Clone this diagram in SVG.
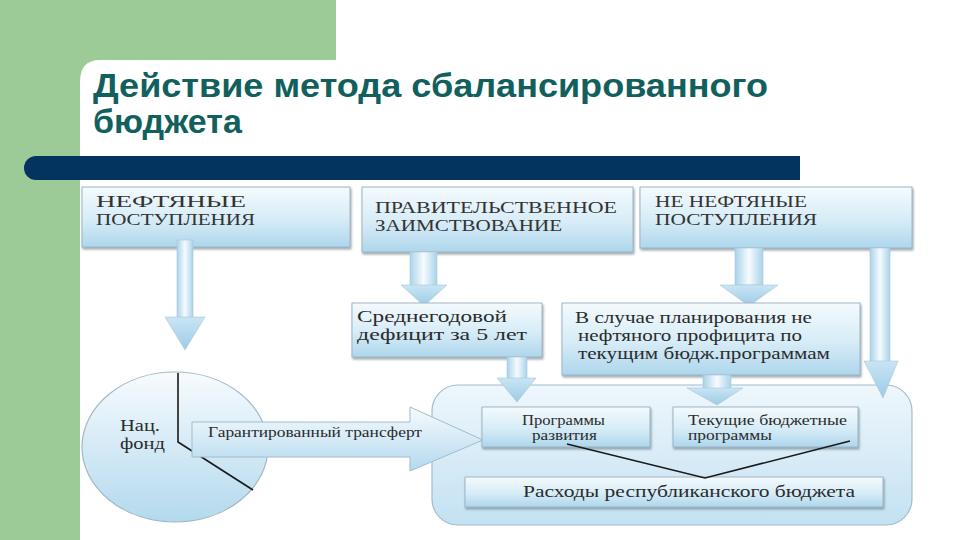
<svg xmlns="http://www.w3.org/2000/svg" width="960" height="540" viewBox="0 0 960 540">
<defs>
<linearGradient id="gBox" x1="0" y1="0" x2="0" y2="1">
<stop offset="0" stop-color="#f4fafd"/>
<stop offset="0.55" stop-color="#d6ecf7"/>
<stop offset="1" stop-color="#aed6ec"/>
</linearGradient>
<linearGradient id="gShaft" x1="0" y1="0" x2="1" y2="0">
<stop offset="0" stop-color="#a9d3ea"/>
<stop offset="0.5" stop-color="#f6fbfe"/>
<stop offset="1" stop-color="#a9d3ea"/>
</linearGradient>
<linearGradient id="gHead" x1="0" y1="0" x2="0" y2="1">
<stop offset="0" stop-color="#c9e5f4"/>
<stop offset="1" stop-color="#9ccbe6"/>
</linearGradient>
<linearGradient id="gBig" x1="0" y1="0" x2="0" y2="1">
<stop offset="0" stop-color="#f7fbfe"/>
<stop offset="1" stop-color="#b3d9ee"/>
</linearGradient>
<linearGradient id="gCont" x1="0" y1="0" x2="0" y2="1">
<stop offset="0" stop-color="#eef7fc"/>
<stop offset="1" stop-color="#c3e1f2"/>
</linearGradient>
<filter id="sh" x="-5%" y="-10%" width="110%" height="130%">
<feDropShadow dx="1" dy="2" stdDeviation="1.2" flood-color="#5a6f7c" flood-opacity="0.6"/>
</filter>
</defs>
<style>
.box{fill:url(#gBox);stroke:#9db6c5;stroke-width:1;filter:url(#sh)}
.cap{font-family:"Liberation Serif","Times New Roman",serif;font-size:16px;fill:#333333}
.txt{font-family:"Liberation Serif","Times New Roman",serif;font-size:16px;fill:#2b2b2b}
.sm{font-family:"Liberation Serif","Times New Roman",serif;font-size:14.5px;fill:#2b2b2b}
.shaft{fill:url(#gShaft);stroke:#a9c6d6;stroke-width:0.6}
.head{fill:url(#gHead);stroke:#a9c6d6;stroke-width:0.6}
.line{stroke:#1a1a1a;stroke-width:1.6;fill:none}
</style>
<rect x="0" y="0" width="960" height="540" fill="#ffffff"/>
<g id="background">
<rect x="0" y="0" width="80" height="540" fill="#9dcb97"/>
<rect x="0" y="0" width="336" height="60" fill="#9dcb97"/>
<path d="M80 60 L100 60 Q80 60 80 82 Z" fill="#9dcb97"/>
<rect x="24" y="156" width="776" height="24" rx="12" fill="#03335f"/>
<rect x="40" y="156" width="760" height="24" fill="#03335f"/>
</g>
<g id="title" font-family="'Liberation Sans',Arial,sans-serif" font-weight="bold" font-size="34" fill="#11605e">
<text x="93" y="97" textLength="675" lengthAdjust="spacingAndGlyphs">Действие метода сбалансированного</text>
<text x="93" y="133">бюджета</text>
</g>
<g id="container">
<rect x="432" y="385" width="480" height="140" rx="26" fill="url(#gCont)" stroke="#a3bccb" stroke-width="1.2"/>
</g>
<g id="node-oil">
<rect class="box" x="82" y="187" width="268" height="60"/>
<text class="cap" x="96" y="207" textLength="150" lengthAdjust="spacingAndGlyphs">НЕФТЯНЫЕ</text>
<text class="cap" x="96" y="225" textLength="159" lengthAdjust="spacingAndGlyphs">ПОСТУПЛЕНИЯ</text>
</g>
<g id="node-gov">
<rect class="box" x="362" y="187" width="271" height="65"/>
<text class="cap" x="375" y="213" textLength="242" lengthAdjust="spacingAndGlyphs">ПРАВИТЕЛЬСТВЕННОЕ</text>
<text class="cap" x="375" y="231" textLength="187" lengthAdjust="spacingAndGlyphs">ЗАИМСТВОВАНИЕ</text>
</g>
<g id="node-nonoil">
<rect class="box" x="640" y="187" width="272" height="61"/>
<text class="cap" x="655" y="207" textLength="152" lengthAdjust="spacingAndGlyphs">НЕ НЕФТЯНЫЕ</text>
<text class="cap" x="655" y="225" textLength="162" lengthAdjust="spacingAndGlyphs">ПОСТУПЛЕНИЯ</text>
</g>
<g id="connectors">
<rect class="shaft" x="177" y="240" width="16" height="78"/>
<path class="head" d="M165 317 L205 317 L185 350 Z"/>
<rect class="shaft" x="410" y="252" width="27" height="34"/>
<path class="head" d="M401 285 L447 285 L424 306 Z"/>
<rect class="shaft" x="735" y="248" width="28" height="37"/>
<path class="head" d="M720 285 L778 285 L749 306 Z"/>
<rect class="shaft" x="870" y="248" width="20" height="114"/>
<path class="head" d="M864 361 L898 361 L883 398 Z"/>
</g>
<g id="node-deficit">
<rect class="box" x="352" y="303" width="190" height="54"/>
<text class="txt" x="357" y="322" textLength="150" lengthAdjust="spacingAndGlyphs">Среднегодовой</text>
<text class="txt" x="357" y="340" textLength="170" lengthAdjust="spacingAndGlyphs">дефицит за 5 лет</text>
</g>
<g id="node-surplus">
<rect class="box" x="562" y="303" width="298" height="72"/>
<text class="txt" x="575" y="323" textLength="237" lengthAdjust="spacingAndGlyphs">В случае планирования не</text>
<text class="txt" x="578" y="341" textLength="224" lengthAdjust="spacingAndGlyphs">нефтяного профицита по</text>
<text class="txt" x="578" y="359" textLength="252" lengthAdjust="spacingAndGlyphs">текущим бюдж.программам</text>
</g>
<g id="connectors-2">
<rect class="shaft" x="507" y="357" width="20" height="22"/>
<path class="head" d="M497 378 L536 378 L517 402 Z"/>
<rect class="shaft" x="703" y="375" width="28" height="14"/>
<path class="head" d="M687 388 L743 388 L717 405 Z"/>
</g>
<g id="node-fund">
<ellipse cx="175" cy="447" rx="93" ry="75" fill="url(#gBig)" stroke="#a2b7c4" stroke-width="1.2"/>
<path class="line" d="M178 373 L178 442 L253 490"/>
<text class="txt" x="120" y="431" textLength="40" lengthAdjust="spacingAndGlyphs">Нац.</text>
<text class="txt" x="120" y="449" textLength="45" lengthAdjust="spacingAndGlyphs">фонд</text>
</g>
<g id="transfer-arrow">
<path d="M192 422 L410 422 L410 407 L483 440 L410 471 L410 457 L192 457 Z" fill="url(#gBig)" stroke="#a3bccb" stroke-width="1"/>
<text class="sm" x="208" y="437" textLength="214" lengthAdjust="spacingAndGlyphs">Гарантированный трансферт</text>
</g>
<g id="node-dev">
<rect class="box" x="482" y="407" width="168" height="40"/>
<text class="sm" x="522" y="425" textLength="83" lengthAdjust="spacingAndGlyphs">Программы</text>
<text class="sm" x="532" y="440" textLength="65" lengthAdjust="spacingAndGlyphs">развития</text>
</g>
<g id="node-current">
<rect class="box" x="673" y="407" width="185" height="40"/>
<text class="sm" x="688" y="425" textLength="159" lengthAdjust="spacingAndGlyphs">Текущие бюджетные</text>
<text class="sm" x="688" y="440" textLength="84" lengthAdjust="spacingAndGlyphs">программы</text>
</g>
<g id="node-expenses">
<rect class="box" x="465" y="477" width="418" height="30"/>
<text class="txt" x="523" y="497" font-size="17" textLength="332" lengthAdjust="spacingAndGlyphs">Расходы республиканского бюджета</text>
</g>
<g id="connectors-3">
<path class="line" d="M567 444 L705 478 L850 441"/>
</g>
</svg>
